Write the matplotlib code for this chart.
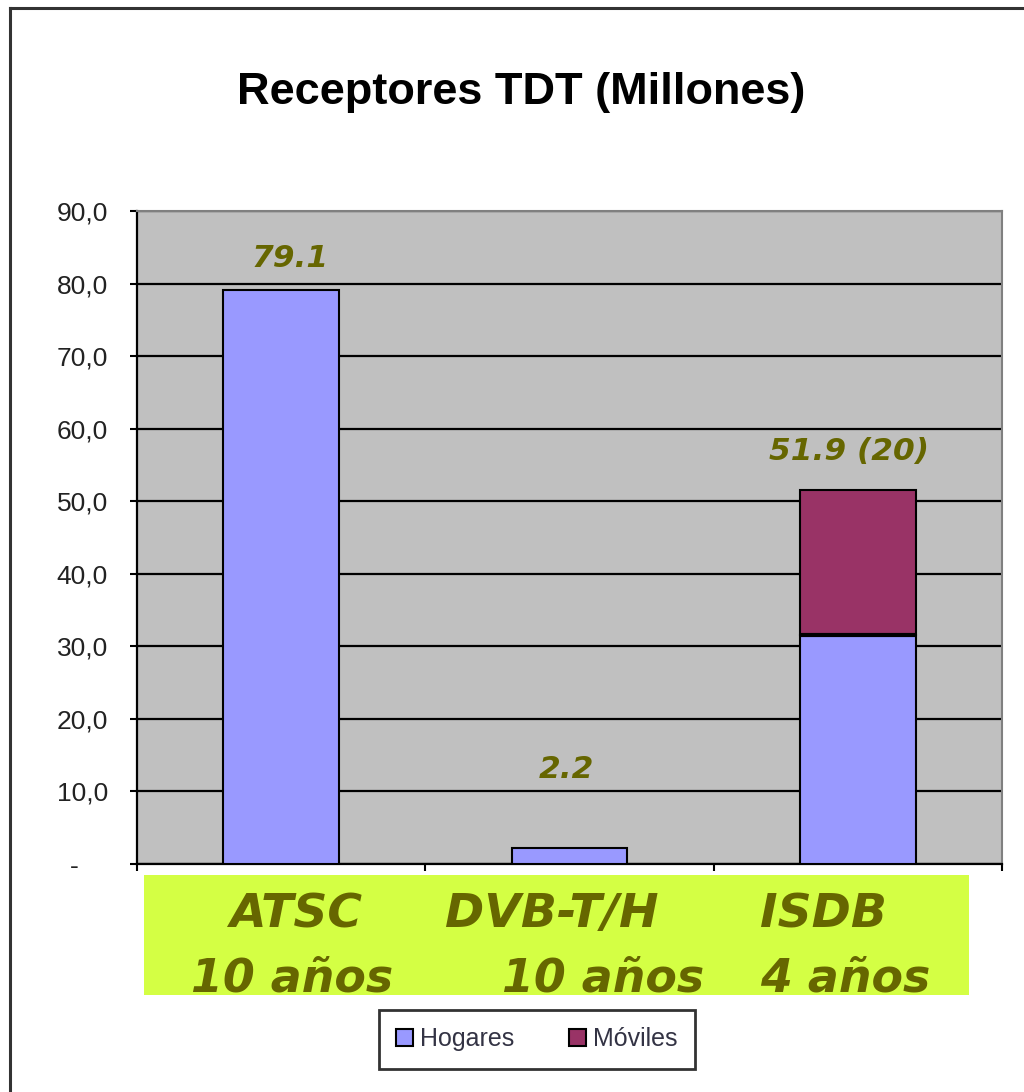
import matplotlib
matplotlib.use("Agg")
import matplotlib.pyplot as plt
from matplotlib.patches import Rectangle
from matplotlib.lines import Line2D
import numpy as np

# data
categories = ["ATSC", "DVB-T/H", "ISDB"]
years = ["10 años", "10 años", "4 años"]
hogares = [79.1, 2.2, 31.5]
moviles = [0.0, 0.0, 20.0]
value_labels = ["79.1", "2.2", "51.9 (20)"]
label_x = [0.03, 0.99, 1.97]
label_y = [82.3, 11.9, 55.7]
yticks = [0, 10, 20, 30, 40, 50, 60, 70, 80, 90]
ytick_labels = ["-    ", "10,0", "20,0", "30,0", "40,0", "50,0", "60,0", "70,0", "80,0", "90,0"]

c_hog = "#9999FF"
c_mov = "#993366"
olive = "#666600"
sans = ["Liberation Sans", "DejaVu Sans"]

fig = plt.figure(figsize=(10.24, 10.92), dpi=100)
ax = fig.add_axes([137/1024, 1 - 864/1092, 865/1024, 653/1092])
ax.set_facecolor("#C0C0C0")

x = np.arange(len(categories))
ax.bar(x, hogares, width=0.4, color=c_hog, edgecolor="black", linewidth=1.5,
       label="Hogares", zorder=3)
mask = np.array(moviles) > 0
ax.bar(x[mask], np.array(moviles)[mask], width=0.4, bottom=np.array(hogares)[mask],
       color=c_mov, edgecolor="black", linewidth=1.5, label="Móviles", zorder=3)
# thicker seam between the stacked parts, as in the original
ax.hlines(np.array(hogares)[mask], x[mask] - 0.2, x[mask] + 0.2, color="black",
          linewidth=3, zorder=4)

for xi, yi, s in zip(label_x, label_y, value_labels):
    ax.text(xi, yi, s, ha="center", va="baseline", fontsize=22.5,
            fontweight="bold", style="italic", color=olive,
            family="DejaVu Sans", zorder=4)

ax.set_xlim(-0.5, 2.5)
ax.set_ylim(0, 90)
ax.set_yticks(yticks)
ax.set_yticklabels(ytick_labels, family=sans, fontsize=19, color="#222222")
ax.set_xticks([-0.5, 0.5, 1.5, 2.5])
ax.set_xticklabels([])
ax.tick_params(axis="y", length=5, width=1.5, pad=16, direction="out")
ax.tick_params(axis="x", length=5, width=1.5, direction="out")
ax.yaxis.grid(True, color="black", linewidth=1.6, zorder=1)
ax.set_axisbelow(True)
ax.spines["left"].set_linewidth(1.6)
ax.spines["bottom"].set_linewidth(1.6)
ax.spines["top"].set_color("#808080")
ax.spines["right"].set_color("#808080")
ax.spines["top"].set_linewidth(1.5)
ax.spines["right"].set_linewidth(1.5)

fig.text(521/1024, 1 - 104/1092, "Receptores TDT (Millones)", ha="center",
         va="baseline", fontsize=32.5, fontweight="bold", family="Liberation Sans")

# green label box under the axis
fig.patches.append(Rectangle((144/1024, 1 - 995/1092), 825/1024, 120/1092,
                             transform=fig.transFigure, facecolor="#D4FF44",
                             edgecolor="none", zorder=1))
name_x = [296, 552, 823]
year_x = [292, 603, 845]
for nx, yx, name, yr in zip(name_x, year_x, categories, years):
    fig.text(nx/1024, 1 - 927/1092, name, ha="center", va="baseline",
             fontsize=34, fontweight="bold", style="italic", color=olive,
             family="DejaVu Sans", zorder=2)
    fig.text(yx/1024, 1 - 991/1092, yr, ha="center", va="baseline",
             fontsize=33, fontweight="bold", style="italic", color=olive,
             family="DejaVu Sans", zorder=2)

leg = fig.legend(loc="center", bbox_to_anchor=(537/1024, 1 - 1039/1092), ncol=2,
                 frameon=True, fancybox=False, handlelength=0.65, handleheight=0.65,
                 handletextpad=0.3, columnspacing=2.2, borderpad=0.7,
                 borderaxespad=0, prop={"family": sans, "size": 18})
leg.get_frame().set_edgecolor("black")
leg.get_frame().set_linewidth(2)
for t in leg.get_texts():
    t.set_color("#333344")

# outer border of the chart area
fig.add_artist(Line2D([10/1024, 10/1024], [0, 1 - 8/1092], transform=fig.transFigure,
                      color="#333333", linewidth=2.2))
fig.add_artist(Line2D([10/1024, 1], [1 - 8/1092, 1 - 8/1092], transform=fig.transFigure,
                      color="#333333", linewidth=2.2))

fig.savefig("out.png", dpi=100)
